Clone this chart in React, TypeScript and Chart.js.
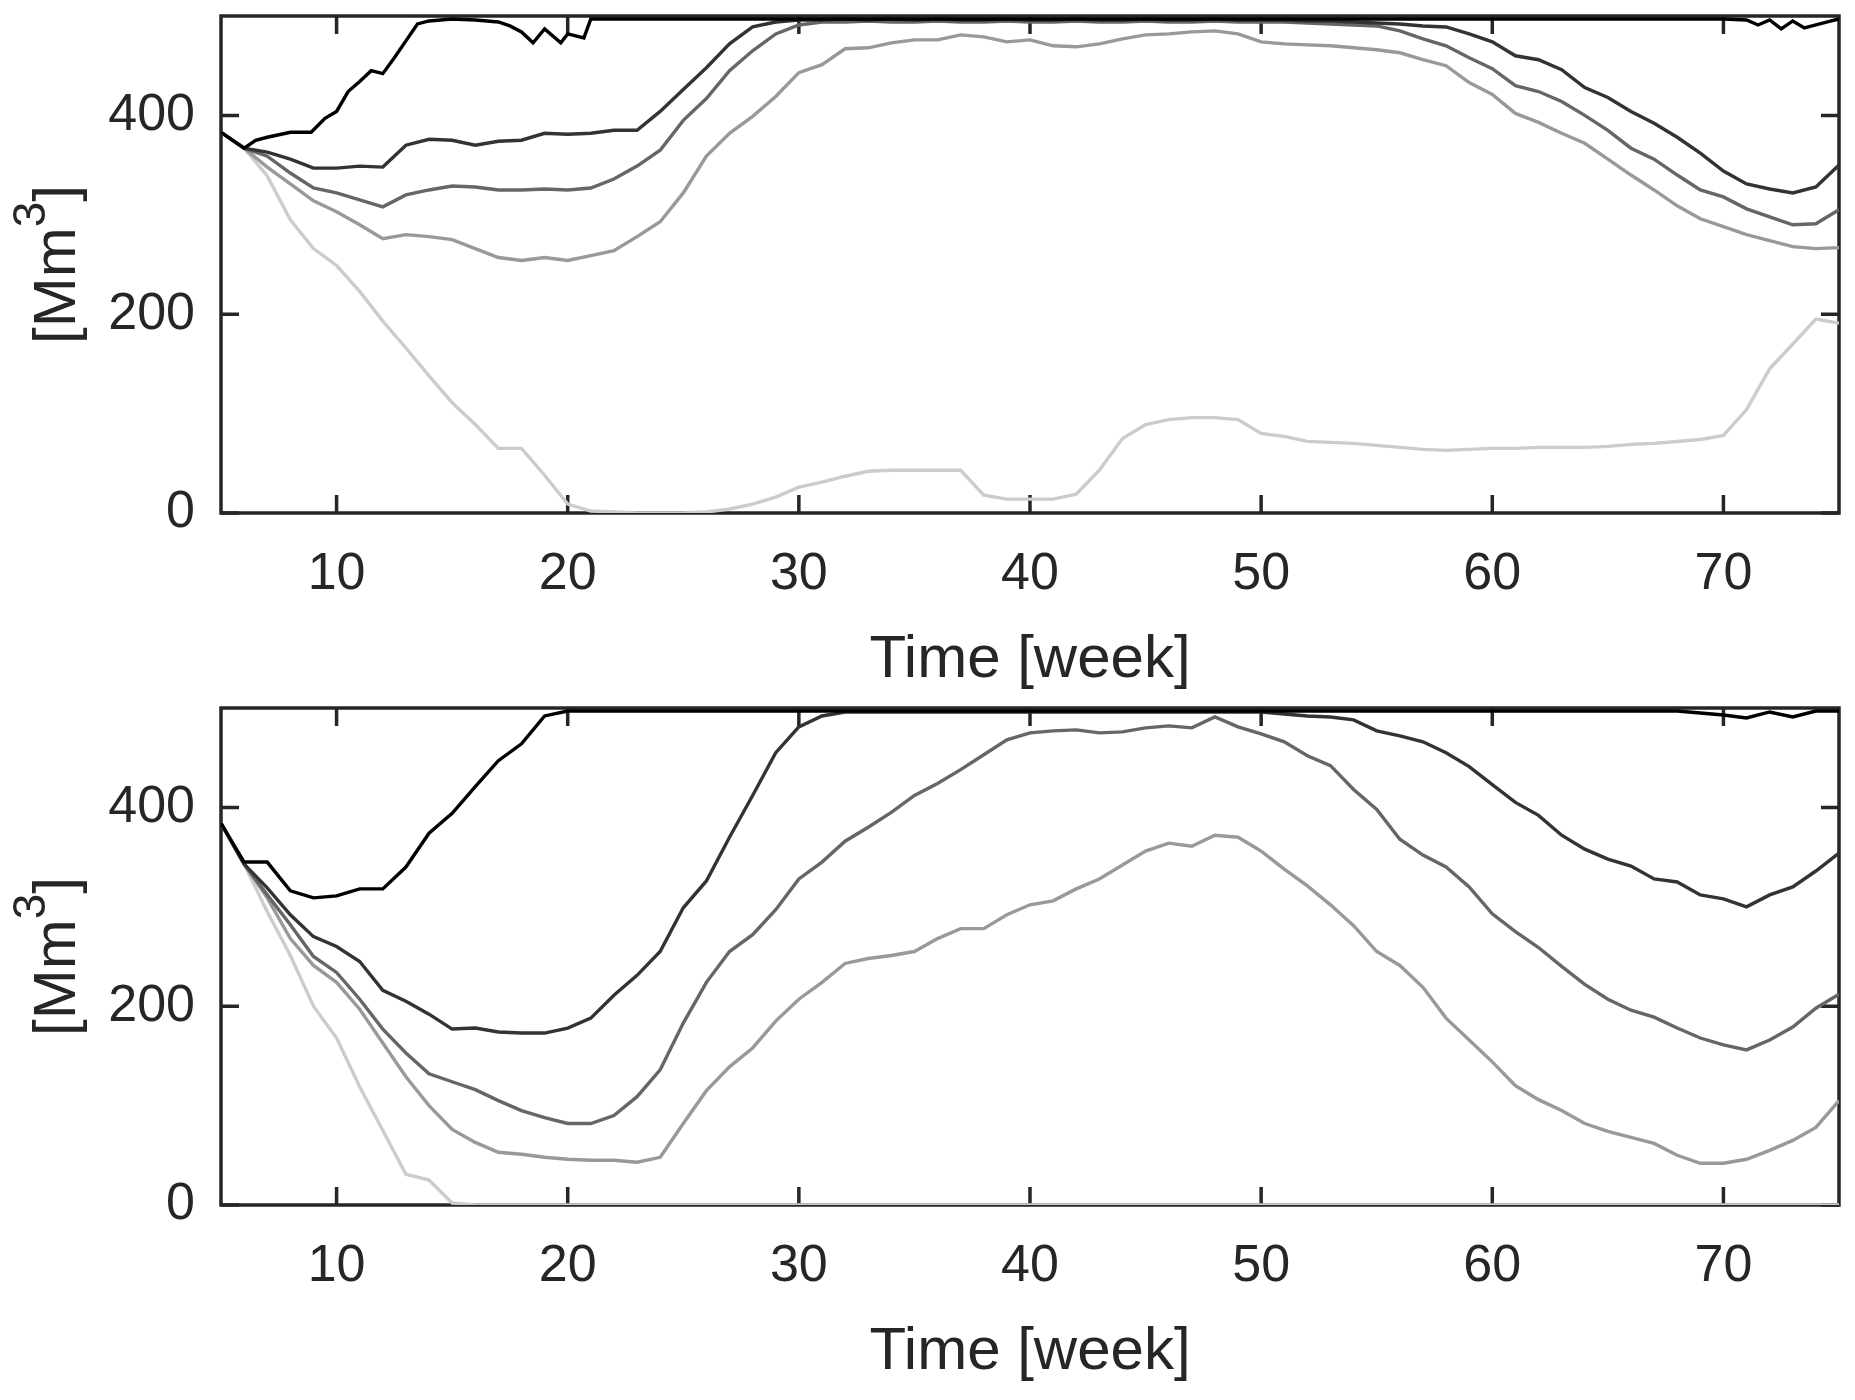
import { useEffect, useRef } from "react";
import { Chart, registerables } from "chart.js";

Chart.register(...registerables);

const FONT = "'Liberation Sans', Arial, sans-serif";
const AXIS_COLOR = "#262626";
const LINE_COLORS = ["#000000", "#333333", "#666666", "#999999", "#cccccc"];

const X_TICKS = [10, 20, 30, 40, 50, 60, 70];
const Y_TICKS = [0, 200, 400];
const X_TITLE = "Time [week]";

const WEEKS = [
  5, 6, 7, 8, 9, 10, 11, 12, 13, 14, 15, 16, 17, 18, 19, 20, 21, 22, 23, 24,
  25, 26, 27, 28, 29, 30, 31, 32, 33, 34, 35, 36, 37, 38, 39, 40, 41, 42, 43, 44,
  45, 46, 47, 48, 49, 50, 51, 52, 53, 54, 55, 56, 57, 58, 59, 60, 61, 62, 63, 64,
  65, 66, 67, 68, 69, 70, 71, 72, 73, 74, 75,
];

// upper panel
const TOP_BLACK_WEEKS = [
  5, 6, 6.5, 7, 8, 8.9, 9.5, 10, 10.5, 11, 11.5, 12, 12.5, 13, 13.5, 14, 15, 16,
  17, 17.5, 18, 18.5, 19, 19.7, 20, 20.7, 21, 21.5, 30, 40, 50, 60, 70, 71, 71.5,
  72, 72.5, 73, 73.5, 74, 74.5, 75,
];
const TOP_BLACK = [
  383, 367, 375, 378, 383, 383, 397, 404, 424, 434, 445, 442, 458, 475, 492, 495,
  497, 496, 494, 490, 484, 473, 487, 473, 482, 478, 497, 497, 497, 497, 497, 497,
  497, 496, 491, 496, 487, 495, 488, 491, 494, 497,
];
const TOP_DARK = [
  383, 367, 363, 356, 347, 347, 349, 348, 370, 376, 375, 370, 374, 375, 382, 381,
  382, 385, 385, 404, 426, 448, 472, 489, 494, 496, 496, 497, 496, 497, 496, 497,
  496, 496, 497, 496, 496, 497, 496, 496, 497, 496, 496, 497, 496, 496, 496, 495,
  495, 494, 493, 492, 490, 489, 482, 474, 460, 456, 446, 428, 418, 404, 392, 378,
  362, 344, 331, 326, 322, 328, 350,
];
const TOP_MID = [
  383, 367, 359, 342, 327, 322, 315, 308, 320, 325, 329, 328, 325, 325, 326, 325,
  327, 336, 349, 365, 395, 417, 445, 465, 482, 491, 494, 494, 495, 494, 494, 495,
  494, 494, 495, 494, 494, 495, 494, 494, 495, 494, 494, 495, 494, 494, 494, 493,
  492, 491, 490, 485, 477, 470, 458, 447, 430, 424, 414, 400, 385, 367, 356, 340,
  325, 318, 306, 298, 290, 291, 305,
];
const TOP_GRAY = [
  383, 367, 348, 331, 314, 303, 290, 276, 280, 278, 275, 266, 257, 254, 257, 254,
  259, 264, 278, 293, 322, 359, 382, 399, 419, 443, 451, 467, 468, 473, 476, 476,
  481, 479, 474, 476, 470, 469, 472, 477, 481, 482, 484, 485, 482, 474, 472, 471,
  470, 468, 466, 463, 456, 450, 433, 421, 402, 393, 382, 372, 356, 340, 325, 309,
  296, 288, 280, 274, 268, 266, 267,
];
const TOP_LIGHT = [
  383, 367, 339, 295, 266, 249, 223, 193, 166, 138, 111, 89, 65, 65, 38, 9,
  2, 1, 0, 0, 0, 1, 4, 9, 16, 26, 31, 37, 42, 43, 43, 43,
  43, 18, 14, 14, 14, 19, 43, 75, 89, 94, 96, 96, 94, 80, 77, 72,
  71, 70, 68, 66, 64, 63, 64, 65, 65, 66, 66, 66, 67, 69, 70, 72,
  74, 78, 104, 145, 170, 195, 191,
];

// lower panel
const BOT_BLACK = [
  384, 345, 345, 316, 309, 311, 318, 318, 340, 374, 394, 421, 447, 464, 492, 497,
  497, 497, 497, 497, 497, 497, 497, 497, 497, 497, 497, 497, 497, 497, 497, 497,
  497, 497, 497, 497, 497, 497, 497, 497, 497, 497, 497, 497, 497, 497, 497, 497,
  497, 497, 497, 497, 497, 497, 497, 497, 497, 497, 497, 497, 497, 497, 497, 497,
  495, 493, 490, 496, 491, 497, 497,
];
const BOT_DARK = [
  384, 343, 319, 292, 270, 260, 245, 216, 205, 192, 177, 178, 174, 173, 173, 178,
  188, 211, 231, 255, 299, 326, 370, 412, 455, 481, 492, 496, 496, 496, 496, 496,
  496, 496, 496, 496, 496, 496, 496, 496, 496, 496, 496, 496, 496, 496, 494, 492,
  491, 488, 477, 472, 466, 455, 441, 423, 405, 392, 372, 358, 348, 341, 328, 325,
  312, 308, 300, 312, 320, 336, 354,
];
const BOT_MID = [
  384, 343, 312, 282, 250, 234, 207, 177, 153, 132, 124, 116, 105, 95, 88, 82,
  82, 90, 109, 136, 183, 224, 255, 272, 297, 328, 345, 366, 380, 395, 412, 424,
  438, 453, 468, 475, 477, 478, 475, 476, 480, 482, 480, 491, 481, 474, 466, 452,
  442, 418, 398, 368, 352, 340, 320, 293, 275, 259, 240, 222, 207, 196, 189, 178,
  168, 161, 156, 166, 179, 198, 212,
];
const BOT_GRAY = [
  384, 343, 309, 268, 241, 224, 197, 163, 129, 100, 76, 63, 53, 51, 48, 46,
  45, 45, 43, 48, 82, 115, 139, 158, 185, 207, 224, 243, 248, 251, 255, 268,
  278, 278, 292, 302, 306, 318, 328, 342, 356, 364, 361, 372, 370, 356, 338, 321,
  302, 281, 255, 241, 219, 188, 166, 144, 120, 106, 95, 82, 74, 68, 62, 50,
  42, 42, 46, 55, 65, 78, 105,
];
const BOT_LIGHT = [
  384, 343, 295, 251, 200, 168, 119, 75, 31, 25, 2, 0, 0, 0, 0, 0,
  0, 0, 0, 0, 0, 0, 0, 0, 0, 0, 0, 0, 0, 0, 0, 0,
  0, 0, 0, 0, 0, 0, 0, 0, 0, 0, 0, 0, 0, 0, 0, 0,
  0, 0, 0, 0, 0, 0, 0, 0, 0, 0, 0, 0, 0, 0, 0, 0,
  0, 0, 0, 0, 0, 0, 0,
];

interface Series {
  weeks: number[];
  values: number[];
}

const TOP_SERIES: Series[] = [
  { weeks: TOP_BLACK_WEEKS, values: TOP_BLACK },
  { weeks: WEEKS, values: TOP_DARK },
  { weeks: WEEKS, values: TOP_MID },
  { weeks: WEEKS, values: TOP_GRAY },
  { weeks: WEEKS, values: TOP_LIGHT },
];

const BOT_SERIES: Series[] = [
  { weeks: WEEKS, values: BOT_BLACK },
  { weeks: WEEKS, values: BOT_DARK },
  { weeks: WEEKS, values: BOT_MID },
  { weeks: WEEKS, values: BOT_GRAY },
  { weeks: WEEKS, values: BOT_LIGHT },
];

const PANEL_W = 1855;
const PANEL_H = 695;
const TICK_LEN = 18;

// MATLAB-like box with inward ticks (drawn under the data) and axis labels
const axesBox = {
  id: "axesBox",
  beforeDatasetsDraw(chart: any) {
    const { ctx, chartArea: a, scales } = chart;
    const xs = scales.x;
    const ys = scales.y;
    ctx.save();
    ctx.strokeStyle = AXIS_COLOR;
    ctx.lineWidth = 3.5;
    ctx.beginPath();
    for (const t of X_TICKS) {
      const px = xs.getPixelForValue(t);
      ctx.moveTo(px, a.bottom);
      ctx.lineTo(px, a.bottom - TICK_LEN);
      ctx.moveTo(px, a.top);
      ctx.lineTo(px, a.top + TICK_LEN);
    }
    for (const t of Y_TICKS) {
      const py = ys.getPixelForValue(t);
      ctx.moveTo(a.left, py);
      ctx.lineTo(a.left + TICK_LEN, py);
      ctx.moveTo(a.right, py);
      ctx.lineTo(a.right - TICK_LEN, py);
    }
    ctx.stroke();
    ctx.strokeRect(a.left, a.top, a.right - a.left, a.bottom - a.top);
    ctx.restore();
  },
  afterDraw(chart: any) {
    const { ctx, chartArea: a } = chart;
    ctx.save();
    ctx.fillStyle = AXIS_COLOR;
    ctx.textBaseline = "alphabetic";
    ctx.textAlign = "center";
    ctx.font = `60px ${FONT}`;
    ctx.fillText(X_TITLE, (a.left + a.right) / 2, a.bottom + 164);

    // y label: [Mm^3]
    ctx.translate(75, (a.top + a.bottom) / 2);
    ctx.rotate(-Math.PI / 2);
    ctx.textAlign = "left";
    ctx.font = `60px ${FONT}`;
    const w1 = ctx.measureText("[Mm").width;
    const w3 = ctx.measureText("]").width;
    ctx.font = `46px ${FONT}`;
    const w2 = ctx.measureText("3").width;
    const start = -(w1 + w2 + w3) / 2;
    ctx.font = `60px ${FONT}`;
    ctx.fillText("[Mm", start, 0);
    ctx.font = `46px ${FONT}`;
    ctx.fillText("3", start + w1, -30);
    ctx.font = `60px ${FONT}`;
    ctx.fillText("]", start + w1 + w2, 0);
    ctx.restore();
  },
};

const Panel = ({ series }: { series: Series[] }) => {
  const canvasRef = useRef<HTMLCanvasElement | null>(null);

  useEffect(() => {
    const ctx = canvasRef.current?.getContext("2d");
    if (!ctx) return;

    const chart = new Chart(ctx, {
      type: "line",
      data: {
        datasets: series.map((s, i) => ({
          data: s.weeks.map((w, j) => ({ x: w, y: s.values[j] })),
          borderColor: LINE_COLORS[i],
          borderWidth: 3.4,
          pointRadius: 0,
          tension: 0,
          fill: false,
        })),
      },
      options: {
        animation: false,
        responsive: false,
        devicePixelRatio: 1,
        layout: { padding: { top: 16, right: 16, left: 0, bottom: 0 } },
        plugins: {
          legend: { display: false },
          tooltip: { enabled: false },
        },
        scales: {
          x: {
            type: "linear",
            min: 5,
            max: 75,
            grid: { display: false, drawTicks: false },
            border: { display: false },
            afterBuildTicks: (s: any) => {
              s.ticks = X_TICKS.map((v) => ({ value: v }));
            },
            afterFit: (s: any) => {
              s.height = 182;
              s.paddingLeft = 0;
              s.paddingRight = 0;
            },
            ticks: {
              padding: 30,
              maxRotation: 0,
              autoSkip: false,
              color: AXIS_COLOR,
              font: { size: 52, family: FONT },
            },
          },
          y: {
            type: "linear",
            min: 0,
            max: 500,
            grid: { display: false, drawTicks: false },
            border: { display: false },
            afterBuildTicks: (s: any) => {
              s.ticks = Y_TICKS.map((v) => ({ value: v }));
            },
            afterFit: (s: any) => {
              s.width = 221;
              s.paddingTop = 0;
              s.paddingBottom = 0;
            },
            ticks: {
              padding: 26,
              color: AXIS_COLOR,
              font: { size: 52, family: FONT },
            },
          },
        },
      },
      plugins: [axesBox],
    });

    return () => {
      chart.destroy();
    };
  }, [series]);

  return (
    <canvas
      ref={canvasRef}
      width={PANEL_W}
      height={PANEL_H}
      style={{ display: "block", width: PANEL_W, height: PANEL_H }}
    />
  );
};

const App = () => {
  return (
    <div
      style={{
        position: "absolute",
        left: 0,
        top: 0,
        width: 1855,
        height: 1400,
        background: "#ffffff",
      }}
    >
      <div style={{ position: "absolute", left: 0, top: 0 }}>
        <Panel series={TOP_SERIES} />
      </div>
      <div style={{ position: "absolute", left: 0, top: 692 }}>
        <Panel series={BOT_SERIES} />
      </div>
    </div>
  );
};

export default App;
